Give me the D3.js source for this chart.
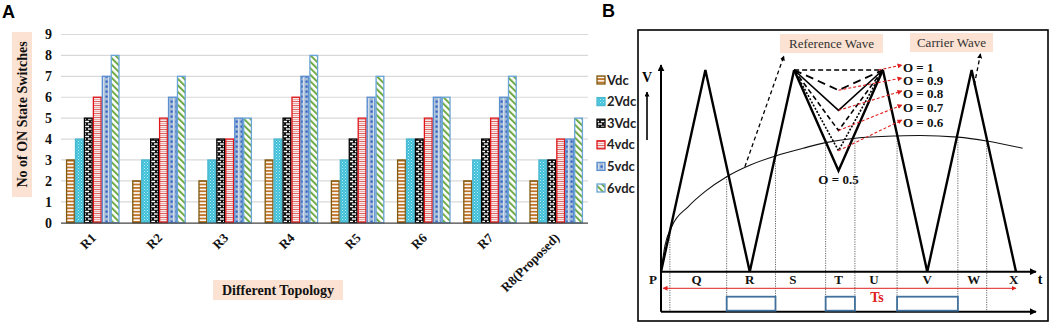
<!DOCTYPE html>
<html><head><meta charset="utf-8">
<script src="https://cdn.jsdelivr.net/npm/d3@7"></script>
<style>body{margin:0;background:#fff}svg{display:block}</style>
</head><body>
<svg id="c" width="1052" height="325"></svg>
<script>
// ---------- Panel A data ----------
const categories = ["R1","R2","R3","R4","R5","R6","R7","R8(Proposed)"];
const seriesNames = ["Vdc","2Vdc","3Vdc","4vdc","5vdc","6vdc"];
const vdc  = [3,2,2,3,2,3,2,2];
const v2dc = [4,3,3,4,3,4,3,3];
const v3dc = [5,4,4,5,4,4,4,3];
const v4dc = [6,5,4,6,5,5,5,4];
const v5dc = [7,6,5,7,6,6,6,4];
const v6dc = [8,7,5,8,7,6,7,5];
const yTicks = [0,1,2,3,4,5,6,7,8,9];

// ---------- Panel B data ----------
const carrierLeft  = [[0,0],[1,1],[2,0],[3,1]];
const carrierRight = [[5,1],[6,0],[7,1],[8,0]];
const modIndex = [1,0.9,0.8,0.7,0.6,0.5];
const modLabels = ["O = 1","O = 0.9","O = 0.8","O = 0.7","O = 0.6"];
const curveT = [0,0.09,0.24,0.61,0.99,1.48,2.0,2.58,3.2,3.71,4.37,5.32,5.83,6.69,7.34,8.15];
const curveV = [0,0.13,0.223,0.322,0.397,0.471,0.528,0.574,0.612,0.640,0.662,0.673,0.675,0.667,0.648,0.612];
const crossT = [0.2,1.48,2.58,3.71,4.37,5.32,6.69,7.34];
const crossV = [0.207,0.471,0.574,0.640,0.662,0.673,0.667,0.648];
const pulseStart = [1.48,3.71,5.32];
const pulseEnd   = [2.58,4.37,6.69];
const pointLabels = ["P","Q","R","S","T","U","V","W","X"];
const pointT = [-0.18,0.8,2,2.97,4,4.8,6,7.05,7.95];

const svg = d3.select("#c");
const defs = svg.append("defs");
const serif = "'Liberation Serif','Times New Roman',serif";
const sans = "Lato,'Liberation Sans',Arial,sans-serif";
const peach = "#fbe2d2";

// ---------- patterns ----------
function pat(id,w,h,draw){
  const p = defs.append("pattern").attr("id",id).attr("patternUnits","userSpaceOnUse")
    .attr("width",w).attr("height",h);
  draw(p); return p;
}
pat("p0",4,3.4,p=>{p.append("rect").attr("width",4).attr("height",3.4).attr("fill","#fff");
  p.append("rect").attr("y",0).attr("width",4).attr("height",1.8).attr("fill","#bf7428");});
pat("p1",3,3,p=>{p.append("rect").attr("width",3).attr("height",3).attr("fill","#3fc0d9");
  p.append("rect").attr("x",0).attr("y",0).attr("width",1).attr("height",1).attr("fill","#b9eef7");
  p.append("rect").attr("x",1.5).attr("y",1.5).attr("width",1).attr("height",1).attr("fill","#9ee3ef");});
pat("p2",6,5,p=>{p.append("rect").attr("width",6).attr("height",5).attr("fill","#111");
  p.append("rect").attr("x",1).attr("y",0.8).attr("width",4).attr("height",1.4).attr("fill","#fff");
  p.append("rect").attr("x",-2).attr("y",3.3).attr("width",4).attr("height",1.4).attr("fill","#fff");
  p.append("rect").attr("x",4).attr("y",3.3).attr("width",4).attr("height",1.4).attr("fill","#fff");});
pat("p3",4,4,p=>{p.append("rect").attr("width",4).attr("height",4).attr("fill","#fbeaea");
  p.append("path").attr("d","M0,2 L1,1 L2,2 L3,1 L4,2").attr("fill","none").attr("stroke","#d9534f").attr("stroke-width",0.9);
  p.append("path").attr("d","M0,4 L1,3 L2,4 L3,3 L4,4").attr("fill","none").attr("stroke","#e39a9a").attr("stroke-width",0.8);});
pat("p4",5,5,p=>{p.append("rect").attr("width",5).attr("height",5).attr("fill","#a7bcd6");
  p.append("rect").attr("x",0.5).attr("y",0.5).attr("width",2.2).attr("height",2.2).attr("fill","#2f62c4");
  p.append("rect").attr("x",3.2).attr("y",0).attr("width",1).attr("height",5).attr("fill","#dbe5f1");});
pat("p5",4.6,4.6,p=>{p.attr("patternTransform","rotate(-45)");
  p.append("rect").attr("width",4.6).attr("height",4.6).attr("fill","#fff");
  p.append("rect").attr("x",0).attr("width",2).attr("height",4.6).attr("fill","#6faa45");});
const fills = ["url(#p0)","url(#p1)","url(#p2)","url(#p3)","url(#p4)","url(#p5)"];
const strokes = ["#7f5a10","#4bb8d0","#000","#e0161b","#5b8fd0","#6aa5d8"];

// ---------- Panel A ----------
const series = [vdc,v2dc,v3dc,v4dc,v5dc,v6dc];
const x0 = d3.scaleBand().domain(categories).range([61,588]).paddingInner(0.19).paddingOuter(0.075);
const x1 = d3.scaleBand().domain(seriesNames).range([0,x0.bandwidth()]);
const y = d3.scaleLinear().domain([0,9]).range([222.7,34.5]);

const gA = svg.append("g");
gA.append("g").selectAll("line").data(yTicks.filter(d=>d>0)).join("line")
  .attr("x1",61).attr("x2",588).attr("y1",d=>y(d)).attr("y2",d=>y(d))
  .attr("stroke","#d9d9d9").attr("stroke-width",1.2);

const yAxis = gA.append("g").attr("transform","translate(61,0)")
  .call(d3.axisLeft(y).tickValues(yTicks).tickSize(0).tickPadding(9));
yAxis.select(".domain").remove();
yAxis.selectAll("text").attr("font-family",serif).attr("font-weight","bold").attr("font-size",14).attr("fill","#111");

categories.forEach((c,i)=>{
  seriesNames.forEach((s,j)=>{
    const v = series[j][i];
    gA.append("rect").attr("x",x0(c)+x1(s)+0.6).attr("y",y(v))
      .attr("width",x1.bandwidth()-1.2).attr("height",y(0)-y(v))
      .attr("fill",fills[j]).attr("stroke",strokes[j]).attr("stroke-width",1.3);
  });
});
gA.append("line").attr("x1",61).attr("x2",588).attr("y1",y(0)+0.5).attr("y2",y(0)+0.5)
  .attr("stroke","#444").attr("stroke-width",1.3);

const xAxis = gA.append("g").attr("transform",`translate(0,${y(0)})`)
  .call(d3.axisBottom(x0).tickSize(0).tickPadding(0));
xAxis.select(".domain").remove();
xAxis.selectAll("text").attr("font-family",serif).attr("font-weight","bold").attr("font-size",13)
  .attr("fill","#111").attr("text-anchor","end").attr("dy",0)
  .attr("transform","translate(4,16) rotate(-45)");

// y label
gA.append("rect").attr("x",12).attr("y",32).attr("width",20).attr("height",165).attr("fill",peach);
gA.append("text").attr("transform","translate(27,114.5) rotate(-90)").attr("text-anchor","middle")
  .attr("font-family",serif).attr("font-weight","bold").attr("font-size",14).attr("fill","#111")
  .text("No of ON State Switches");
// x label
gA.append("rect").attr("x",213).attr("y",280).attr("width",130).attr("height",20).attr("fill",peach);
gA.append("text").attr("x",278).attr("y",295).attr("text-anchor","middle")
  .attr("font-family",serif).attr("font-weight","bold").attr("font-size",14).attr("fill","#111")
  .text("Different Topology");

// legend
const leg = gA.append("g");
seriesNames.forEach((s,j)=>{
  const ly = 80 + j*21.6;
  leg.append("rect").attr("x",597).attr("y",ly-4).attr("width",8).attr("height",8)
    .attr("fill",fills[j]).attr("stroke",strokes[j]).attr("stroke-width",1.3);
  leg.append("text").attr("x",607).attr("y",ly+4.5).attr("font-family",sans).attr("font-weight","bold")
    .attr("font-size",13).attr("fill","#222").text(s);
});

svg.append("text").attr("x",2).attr("y",18).attr("font-family","'Liberation Sans',Arial,sans-serif")
  .attr("font-weight","bold").attr("font-size",18).text("A");
svg.append("text").attr("x",602).attr("y",17).attr("font-family","'Liberation Sans',Arial,sans-serif")
  .attr("font-weight","bold").attr("font-size",18).text("B");

// ---------- Panel B ----------
const xB = d3.scaleLinear().domain([0,8]).range([661,1016]);
const yB = d3.scaleLinear().domain([0,1]).range([271.7,70]);
const line = d3.line().x(d=>xB(d[0])).y(d=>yB(d[1]));

function marker(id,color,size){
  defs.append("marker").attr("id",id).attr("viewBox","0 0 10 10").attr("refX",9).attr("refY",5)
    .attr("markerWidth",size).attr("markerHeight",size).attr("markerUnits","userSpaceOnUse")
    .attr("orient","auto-start-reverse")
    .append("path").attr("d","M0,0 L10,5 L0,10 Z").attr("fill",color);
}
marker("ab","#000",7);
marker("ar","#e02020",5);
marker("abs","#000",5);

const gB = svg.append("g");
gB.append("rect").attr("x",638).attr("y",30).attr("width",410).attr("height",291)
  .attr("fill","none").attr("stroke","#000").attr("stroke-width",1.6);

// dotted verticals
const pulseBase = 311.7, pulseTop = 296.7;
gB.selectAll("line.vd").data(crossT).join("line")
  .attr("x1",d=>xB(d)).attr("x2",d=>xB(d)).attr("y1",(d,i)=>yB(crossV[i])).attr("y2",pulseBase)
  .attr("stroke","#666").attr("stroke-width",1).attr("stroke-dasharray","1.2,1.2");

// curve
gB.append("path").datum(curveT.map((t,i)=>[t,curveV[i]]))
  .attr("d",d3.line().x(d=>xB(d[0])).y(d=>yB(d[1])).curve(d3.curveMonotoneX))
  .attr("fill","none").attr("stroke","#111").attr("stroke-width",1.1);

// carrier triangles
[carrierLeft,carrierRight].forEach(c=>{
  gB.append("path").datum(c).attr("d",line).attr("fill","none").attr("stroke","#000")
    .attr("stroke-width",2.4).attr("stroke-linejoin","miter");
});
// reference V's
const dashes = ["5,3","8,5",null,"5,3","2,1.6",null];
const widths = [1.6,1.8,1.6,1.6,1.6,2.4];
modIndex.forEach((o,i)=>{
  gB.append("path").datum([[3,1],[4,o],[5,1]]).attr("d",line).attr("fill","none")
    .attr("stroke","#000").attr("stroke-width",widths[i]).attr("stroke-dasharray",dashes[i]);
});

// axes
gB.append("line").attr("x1",xB(0)).attr("x2",1036).attr("y1",yB(0)).attr("y2",yB(0))
  .attr("stroke","#000").attr("stroke-width",2).attr("marker-end","url(#ab)");
gB.append("line").attr("x1",xB(0)).attr("x2",xB(0)).attr("y1",pulseBase).attr("y2",65)
  .attr("stroke","#000").attr("stroke-width",2).attr("marker-end","url(#ab)");
gB.append("line").attr("x1",xB(0)).attr("x2",1036).attr("y1",pulseBase).attr("y2",pulseBase)
  .attr("stroke","#000").attr("stroke-width",2).attr("marker-end","url(#ab)");
gB.append("line").attr("x1",647).attr("x2",647).attr("y1",140).attr("y2",92)
  .attr("stroke","#000").attr("stroke-width",1.6).attr("marker-end","url(#abs)");
gB.append("text").attr("x",647).attr("y",82).attr("text-anchor","middle").attr("font-family",serif)
  .attr("font-weight","bold").attr("font-size",14).text("V");
gB.append("text").attr("x",1040).attr("y",284).attr("text-anchor","middle").attr("font-family",serif)
  .attr("font-weight","bold").attr("font-size",14).text("t");

// pulses
pulseStart.forEach((s,i)=>{
  gB.append("rect").attr("x",xB(s)).attr("y",pulseTop).attr("width",xB(pulseEnd[i])-xB(s))
    .attr("height",pulseBase-pulseTop-1).attr("fill","none").attr("stroke","#41719c").attr("stroke-width",1.8);
});

// Ts arrow
gB.append("line").attr("x1",xB(0)+2).attr("x2",xB(8)).attr("y1",288.3).attr("y2",288.3)
  .attr("stroke","#e02020").attr("stroke-width",1).attr("marker-start","url(#ar)").attr("marker-end","url(#ar)");
gB.append("text").attr("x",877).attr("y",302).attr("text-anchor","middle").attr("font-family",serif)
  .attr("font-weight","bold").attr("font-size",14).attr("fill","#e02020").text("Ts");

// point labels
gB.selectAll("text.pl").data(pointLabels).join("text")
  .attr("x",(d,i)=>xB(pointT[i])).attr("y",284).attr("text-anchor","middle")
  .attr("font-family",serif).attr("font-weight","bold").attr("font-size",13).attr("fill","#111").text(d=>d);

// wave labels
[["Reference Wave",780,34,103,19],["Carrier Wave",910,33,83,19]].forEach(([t,x,yy,w,h])=>{
  gB.append("rect").attr("x",x).attr("y",yy).attr("width",w).attr("height",h).attr("fill",peach);
  gB.append("text").attr("x",x+w/2).attr("y",yy+h/2+4.5).attr("text-anchor","middle")
    .attr("font-family",serif).attr("font-size",13).attr("fill","#333").text(t);
});
// dashed black pointers
gB.append("line").attr("x1",xB(1.89)).attr("y1",yB(0.52)).attr("x2",xB(2.77)).attr("y2",yB(1.07))
  .attr("stroke","#000").attr("stroke-width",1.3).attr("stroke-dasharray","4,3").attr("marker-end","url(#abs)");
gB.append("line").attr("x1",xB(7.06)).attr("y1",yB(0.926)).attr("x2",xB(7.2)).attr("y2",yB(1.08))
  .attr("stroke","#000").attr("stroke-width",1.3).attr("stroke-dasharray","4,3").attr("marker-end","url(#abs)");

// modulation labels and red arrows
const labelX = 903;
const labelY = [67,80,93,107,122];
const arrowStartT = [4.9,4,4,4,4];
modLabels.forEach((l,i)=>{
  gB.append("line").attr("x1",xB(arrowStartT[i])).attr("y1",yB(modIndex[i]))
    .attr("x2",labelX-1).attr("y2",labelY[i]-2)
    .attr("stroke","#e02020").attr("stroke-width",1.1).attr("stroke-dasharray","3,2").attr("marker-end","url(#ar)");
  gB.append("text").attr("x",labelX).attr("y",labelY[i]+4.5).attr("font-family",serif)
    .attr("font-weight","bold").attr("font-size",13).attr("fill","#111").text(l);
});
gB.append("text").attr("x",xB(4)).attr("y",yB(0.5)+13).attr("text-anchor","middle").attr("font-family",serif)
  .attr("font-weight","bold").attr("font-size",13).attr("fill","#111").text("O = 0.5");
</script>
</body></html>
